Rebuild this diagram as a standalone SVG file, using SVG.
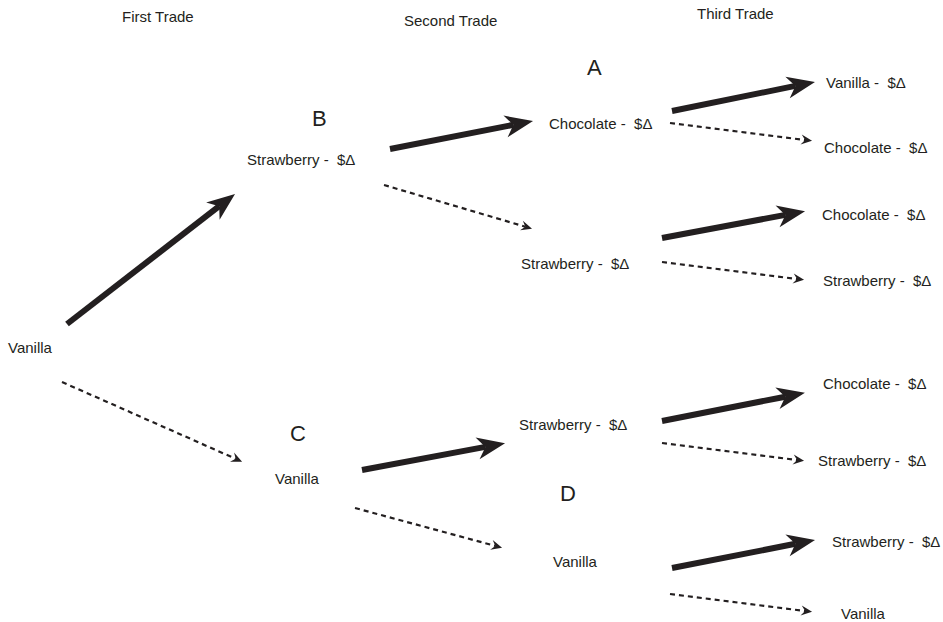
<svg xmlns="http://www.w3.org/2000/svg" width="943" height="622" viewBox="0 0 943 622">
<style>
text{font-family:"Liberation Sans",Arial,sans-serif;font-size:15px;fill:#231f20;white-space:pre}
.big{font-size:22px}
.bold{stroke:#231f20;stroke-width:6;fill:none}
.dash{stroke:#231f20;stroke-width:2.2;fill:none;stroke-dasharray:5 4}
</style>
<defs>
<marker id="hb" viewBox="-30 -12 32 24" markerWidth="32" markerHeight="24" refX="-20" refY="0" orient="auto" markerUnits="userSpaceOnUse">
<path d="M0,0 L-28,-11 L-20,0 L-28,11 Z" fill="#231f20"/>
</marker>
<marker id="hd" viewBox="-12 -6 13 12" markerWidth="13" markerHeight="12" refX="-7" refY="0" orient="auto" markerUnits="userSpaceOnUse">
<path d="M0,0 L-11,-5 L-7,0 L-11,5 Z" fill="#231f20"/>
</marker>
</defs>
<rect width="943" height="622" fill="#fff"/>
<g id="headers">
<text x="122" y="22">First Trade</text>
<text x="404" y="26">Second Trade</text>
<text x="697" y="19">Third Trade</text>
</g>
<g id="connectors">
<line class="bold" x1="67" y1="324" x2="219.2" y2="206.2" marker-end="url(#hb)"/>
<line class="dash" x1="62" y1="382" x2="235.7" y2="458.8" marker-end="url(#hd)"/>
<line class="bold" x1="390" y1="149" x2="513.4" y2="124.8" marker-end="url(#hb)"/>
<line class="dash" x1="384" y1="185" x2="525.3" y2="226.7" marker-end="url(#hd)"/>
<line class="bold" x1="362" y1="470" x2="485.4" y2="446.9" marker-end="url(#hb)"/>
<line class="dash" x1="355" y1="508" x2="495.3" y2="545.9" marker-end="url(#hd)"/>
<line class="bold" x1="672" y1="111" x2="795.4" y2="85.9" marker-end="url(#hb)"/>
<line class="dash" x1="670" y1="123" x2="805.1" y2="140" marker-end="url(#hd)"/>
<line class="bold" x1="662" y1="238" x2="785.4" y2="214.9" marker-end="url(#hb)"/>
<line class="dash" x1="662" y1="262" x2="797.1" y2="279" marker-end="url(#hd)"/>
<line class="bold" x1="662" y1="421" x2="785.3" y2="396.7" marker-end="url(#hb)"/>
<line class="dash" x1="662" y1="443" x2="797.1" y2="460" marker-end="url(#hd)"/>
<line class="bold" x1="672" y1="568" x2="795.4" y2="543.8" marker-end="url(#hb)"/>
<line class="dash" x1="670" y1="594" x2="805.1" y2="611" marker-end="url(#hd)"/>
</g>
<g id="root"><text x="8" y="353">Vanilla</text></g>
<g id="nodeB"><text class="big" x="312" y="126">B</text><text x="247" y="165">Strawberry -  $Δ</text></g>
<g id="nodeC"><text class="big" x="290" y="441">C</text><text x="275" y="484">Vanilla</text></g>
<g id="nodeA"><text class="big" x="587" y="75">A</text><text x="549" y="129">Chocolate -  $Δ</text></g>
<g id="nodeS2"><text x="521" y="269">Strawberry -  $Δ</text></g>
<g id="nodeS3"><text x="519" y="430">Strawberry -  $Δ</text></g>
<g id="nodeD"><text class="big" x="560" y="501">D</text><text x="553" y="567">Vanilla</text></g>
<g id="t1"><text x="826" y="88">Vanilla -  $Δ</text></g>
<g id="t2"><text x="824" y="153">Chocolate -  $Δ</text></g>
<g id="t3"><text x="822" y="220">Chocolate -  $Δ</text></g>
<g id="t4"><text x="823" y="286">Strawberry -  $Δ</text></g>
<g id="t5"><text x="823" y="389">Chocolate -  $Δ</text></g>
<g id="t6"><text x="818" y="466">Strawberry -  $Δ</text></g>
<g id="t7"><text x="832" y="547">Strawberry -  $Δ</text></g>
<g id="t8"><text x="841" y="619">Vanilla</text></g>
</svg>
